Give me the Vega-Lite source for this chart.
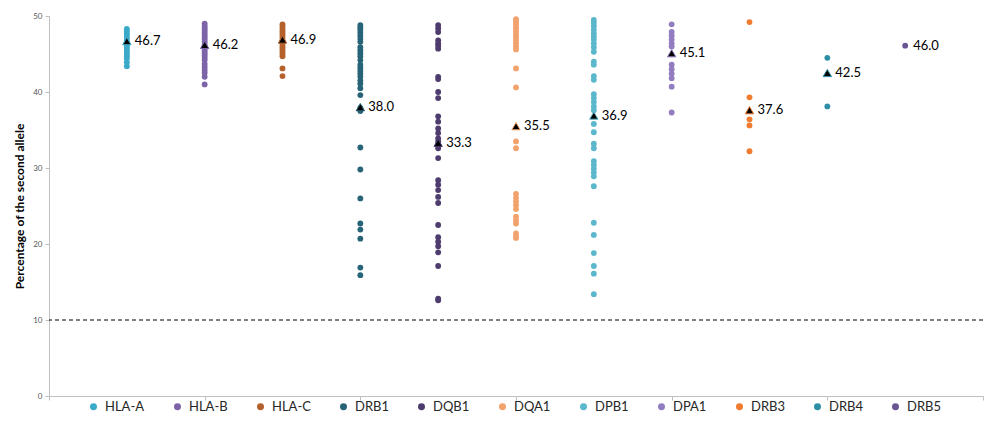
{
  "$schema": "https://vega.github.io/schema/vega-lite/v6.json",
  "width": 934,
  "height": 380,
  "autosize": "none",
  "padding": {"left": 49, "top": 16, "right": 8, "bottom": 31},
  "background": "white",
  "config": {
    "view": {"stroke": null},
    "font": "Lato",
    "axis": {"domainColor": "#BFBFBF", "tickColor": "#BFBFBF", "grid": false}
  },
  "datasets": {
    "points": [
      {"gene": "HLA-A", "pos": 1, "value": 48.3}, {"gene": "HLA-A", "pos": 1, "value": 48.0}, {"gene": "HLA-A", "pos": 1, "value": 47.7}, {"gene": "HLA-A", "pos": 1, "value": 47.4}, {"gene": "HLA-A", "pos": 1, "value": 47.1}, {"gene": "HLA-A", "pos": 1, "value": 46.8}, {"gene": "HLA-A", "pos": 1, "value": 46.5}, {"gene": "HLA-A", "pos": 1, "value": 46.2}, {"gene": "HLA-A", "pos": 1, "value": 45.9}, {"gene": "HLA-A", "pos": 1, "value": 45.6}, {"gene": "HLA-A", "pos": 1, "value": 45.3}, {"gene": "HLA-A", "pos": 1, "value": 45.0}, {"gene": "HLA-A", "pos": 1, "value": 44.7}, {"gene": "HLA-A", "pos": 1, "value": 44.4}, {"gene": "HLA-A", "pos": 1, "value": 43.9}, {"gene": "HLA-A", "pos": 1, "value": 43.4},
      {"gene": "HLA-B", "pos": 2, "value": 49.0}, {"gene": "HLA-B", "pos": 2, "value": 48.7}, {"gene": "HLA-B", "pos": 2, "value": 48.4}, {"gene": "HLA-B", "pos": 2, "value": 48.1}, {"gene": "HLA-B", "pos": 2, "value": 47.8}, {"gene": "HLA-B", "pos": 2, "value": 47.5}, {"gene": "HLA-B", "pos": 2, "value": 47.2}, {"gene": "HLA-B", "pos": 2, "value": 46.9}, {"gene": "HLA-B", "pos": 2, "value": 46.6}, {"gene": "HLA-B", "pos": 2, "value": 46.3}, {"gene": "HLA-B", "pos": 2, "value": 46.0}, {"gene": "HLA-B", "pos": 2, "value": 45.7}, {"gene": "HLA-B", "pos": 2, "value": 45.4}, {"gene": "HLA-B", "pos": 2, "value": 45.1}, {"gene": "HLA-B", "pos": 2, "value": 44.8}, {"gene": "HLA-B", "pos": 2, "value": 44.5}, {"gene": "HLA-B", "pos": 2, "value": 44.2}, {"gene": "HLA-B", "pos": 2, "value": 43.7}, {"gene": "HLA-B", "pos": 2, "value": 43.3}, {"gene": "HLA-B", "pos": 2, "value": 42.9}, {"gene": "HLA-B", "pos": 2, "value": 42.5}, {"gene": "HLA-B", "pos": 2, "value": 42.0}, {"gene": "HLA-B", "pos": 2, "value": 41.0},
      {"gene": "HLA-C", "pos": 3, "value": 48.9}, {"gene": "HLA-C", "pos": 3, "value": 48.6}, {"gene": "HLA-C", "pos": 3, "value": 48.3}, {"gene": "HLA-C", "pos": 3, "value": 48.0}, {"gene": "HLA-C", "pos": 3, "value": 47.7}, {"gene": "HLA-C", "pos": 3, "value": 47.4}, {"gene": "HLA-C", "pos": 3, "value": 47.1}, {"gene": "HLA-C", "pos": 3, "value": 46.8}, {"gene": "HLA-C", "pos": 3, "value": 46.5}, {"gene": "HLA-C", "pos": 3, "value": 46.2}, {"gene": "HLA-C", "pos": 3, "value": 45.9}, {"gene": "HLA-C", "pos": 3, "value": 45.6}, {"gene": "HLA-C", "pos": 3, "value": 45.3}, {"gene": "HLA-C", "pos": 3, "value": 45.0}, {"gene": "HLA-C", "pos": 3, "value": 44.7}, {"gene": "HLA-C", "pos": 3, "value": 43.1}, {"gene": "HLA-C", "pos": 3, "value": 42.1},
      {"gene": "DRB1", "pos": 4, "value": 48.8}, {"gene": "DRB1", "pos": 4, "value": 48.5}, {"gene": "DRB1", "pos": 4, "value": 48.2}, {"gene": "DRB1", "pos": 4, "value": 47.8}, {"gene": "DRB1", "pos": 4, "value": 47.4}, {"gene": "DRB1", "pos": 4, "value": 47.0}, {"gene": "DRB1", "pos": 4, "value": 46.6}, {"gene": "DRB1", "pos": 4, "value": 45.9}, {"gene": "DRB1", "pos": 4, "value": 45.5}, {"gene": "DRB1", "pos": 4, "value": 45.1}, {"gene": "DRB1", "pos": 4, "value": 44.7}, {"gene": "DRB1", "pos": 4, "value": 44.2}, {"gene": "DRB1", "pos": 4, "value": 43.6}, {"gene": "DRB1", "pos": 4, "value": 43.2}, {"gene": "DRB1", "pos": 4, "value": 42.8}, {"gene": "DRB1", "pos": 4, "value": 42.4}, {"gene": "DRB1", "pos": 4, "value": 42.0}, {"gene": "DRB1", "pos": 4, "value": 41.5}, {"gene": "DRB1", "pos": 4, "value": 41.1}, {"gene": "DRB1", "pos": 4, "value": 40.5}, {"gene": "DRB1", "pos": 4, "value": 39.6}, {"gene": "DRB1", "pos": 4, "value": 37.9}, {"gene": "DRB1", "pos": 4, "value": 37.5}, {"gene": "DRB1", "pos": 4, "value": 32.7}, {"gene": "DRB1", "pos": 4, "value": 29.8}, {"gene": "DRB1", "pos": 4, "value": 26.0}, {"gene": "DRB1", "pos": 4, "value": 22.7}, {"gene": "DRB1", "pos": 4, "value": 21.9}, {"gene": "DRB1", "pos": 4, "value": 20.7}, {"gene": "DRB1", "pos": 4, "value": 16.9}, {"gene": "DRB1", "pos": 4, "value": 15.9},
      {"gene": "DQB1", "pos": 5, "value": 48.8}, {"gene": "DQB1", "pos": 5, "value": 48.4}, {"gene": "DQB1", "pos": 5, "value": 47.9}, {"gene": "DQB1", "pos": 5, "value": 46.8}, {"gene": "DQB1", "pos": 5, "value": 46.4}, {"gene": "DQB1", "pos": 5, "value": 46.1}, {"gene": "DQB1", "pos": 5, "value": 45.7}, {"gene": "DQB1", "pos": 5, "value": 42.0}, {"gene": "DQB1", "pos": 5, "value": 41.7}, {"gene": "DQB1", "pos": 5, "value": 40.0}, {"gene": "DQB1", "pos": 5, "value": 39.2}, {"gene": "DQB1", "pos": 5, "value": 36.8}, {"gene": "DQB1", "pos": 5, "value": 36.1}, {"gene": "DQB1", "pos": 5, "value": 35.2}, {"gene": "DQB1", "pos": 5, "value": 34.6}, {"gene": "DQB1", "pos": 5, "value": 33.9}, {"gene": "DQB1", "pos": 5, "value": 33.5}, {"gene": "DQB1", "pos": 5, "value": 33.0}, {"gene": "DQB1", "pos": 5, "value": 32.6}, {"gene": "DQB1", "pos": 5, "value": 31.3}, {"gene": "DQB1", "pos": 5, "value": 28.4}, {"gene": "DQB1", "pos": 5, "value": 27.8}, {"gene": "DQB1", "pos": 5, "value": 27.1}, {"gene": "DQB1", "pos": 5, "value": 26.2}, {"gene": "DQB1", "pos": 5, "value": 25.4}, {"gene": "DQB1", "pos": 5, "value": 22.5}, {"gene": "DQB1", "pos": 5, "value": 20.9}, {"gene": "DQB1", "pos": 5, "value": 20.3}, {"gene": "DQB1", "pos": 5, "value": 19.7}, {"gene": "DQB1", "pos": 5, "value": 18.9}, {"gene": "DQB1", "pos": 5, "value": 17.1}, {"gene": "DQB1", "pos": 5, "value": 12.8}, {"gene": "DQB1", "pos": 5, "value": 12.6},
      {"gene": "DQA1", "pos": 6, "value": 49.6}, {"gene": "DQA1", "pos": 6, "value": 49.3}, {"gene": "DQA1", "pos": 6, "value": 49.0}, {"gene": "DQA1", "pos": 6, "value": 48.7}, {"gene": "DQA1", "pos": 6, "value": 48.4}, {"gene": "DQA1", "pos": 6, "value": 48.0}, {"gene": "DQA1", "pos": 6, "value": 47.6}, {"gene": "DQA1", "pos": 6, "value": 47.2}, {"gene": "DQA1", "pos": 6, "value": 46.8}, {"gene": "DQA1", "pos": 6, "value": 46.4}, {"gene": "DQA1", "pos": 6, "value": 46.0}, {"gene": "DQA1", "pos": 6, "value": 45.6}, {"gene": "DQA1", "pos": 6, "value": 43.1}, {"gene": "DQA1", "pos": 6, "value": 40.6}, {"gene": "DQA1", "pos": 6, "value": 33.5}, {"gene": "DQA1", "pos": 6, "value": 32.6}, {"gene": "DQA1", "pos": 6, "value": 26.6}, {"gene": "DQA1", "pos": 6, "value": 26.1}, {"gene": "DQA1", "pos": 6, "value": 25.6}, {"gene": "DQA1", "pos": 6, "value": 25.1}, {"gene": "DQA1", "pos": 6, "value": 24.6}, {"gene": "DQA1", "pos": 6, "value": 23.6}, {"gene": "DQA1", "pos": 6, "value": 23.1}, {"gene": "DQA1", "pos": 6, "value": 22.7}, {"gene": "DQA1", "pos": 6, "value": 21.4}, {"gene": "DQA1", "pos": 6, "value": 21.0}, {"gene": "DQA1", "pos": 6, "value": 20.8},
      {"gene": "DPB1", "pos": 7, "value": 49.5}, {"gene": "DPB1", "pos": 7, "value": 49.1}, {"gene": "DPB1", "pos": 7, "value": 48.7}, {"gene": "DPB1", "pos": 7, "value": 48.2}, {"gene": "DPB1", "pos": 7, "value": 47.7}, {"gene": "DPB1", "pos": 7, "value": 47.3}, {"gene": "DPB1", "pos": 7, "value": 46.9}, {"gene": "DPB1", "pos": 7, "value": 46.4}, {"gene": "DPB1", "pos": 7, "value": 45.9}, {"gene": "DPB1", "pos": 7, "value": 45.3}, {"gene": "DPB1", "pos": 7, "value": 44.0}, {"gene": "DPB1", "pos": 7, "value": 43.6}, {"gene": "DPB1", "pos": 7, "value": 42.1}, {"gene": "DPB1", "pos": 7, "value": 41.6}, {"gene": "DPB1", "pos": 7, "value": 39.7}, {"gene": "DPB1", "pos": 7, "value": 39.2}, {"gene": "DPB1", "pos": 7, "value": 38.7}, {"gene": "DPB1", "pos": 7, "value": 38.1}, {"gene": "DPB1", "pos": 7, "value": 37.6}, {"gene": "DPB1", "pos": 7, "value": 35.8}, {"gene": "DPB1", "pos": 7, "value": 34.7}, {"gene": "DPB1", "pos": 7, "value": 33.2}, {"gene": "DPB1", "pos": 7, "value": 32.6}, {"gene": "DPB1", "pos": 7, "value": 30.9}, {"gene": "DPB1", "pos": 7, "value": 30.4}, {"gene": "DPB1", "pos": 7, "value": 29.9}, {"gene": "DPB1", "pos": 7, "value": 29.4}, {"gene": "DPB1", "pos": 7, "value": 28.9}, {"gene": "DPB1", "pos": 7, "value": 27.6}, {"gene": "DPB1", "pos": 7, "value": 22.8}, {"gene": "DPB1", "pos": 7, "value": 21.2}, {"gene": "DPB1", "pos": 7, "value": 18.8}, {"gene": "DPB1", "pos": 7, "value": 17.1}, {"gene": "DPB1", "pos": 7, "value": 16.1}, {"gene": "DPB1", "pos": 7, "value": 13.4},
      {"gene": "DPA1", "pos": 8, "value": 48.9}, {"gene": "DPA1", "pos": 8, "value": 47.9}, {"gene": "DPA1", "pos": 8, "value": 47.4}, {"gene": "DPA1", "pos": 8, "value": 46.9}, {"gene": "DPA1", "pos": 8, "value": 46.4}, {"gene": "DPA1", "pos": 8, "value": 46.0}, {"gene": "DPA1", "pos": 8, "value": 43.6}, {"gene": "DPA1", "pos": 8, "value": 43.0}, {"gene": "DPA1", "pos": 8, "value": 42.4}, {"gene": "DPA1", "pos": 8, "value": 41.8}, {"gene": "DPA1", "pos": 8, "value": 40.7}, {"gene": "DPA1", "pos": 8, "value": 37.3},
      {"gene": "DRB3", "pos": 9, "value": 49.2}, {"gene": "DRB3", "pos": 9, "value": 39.3}, {"gene": "DRB3", "pos": 9, "value": 36.4}, {"gene": "DRB3", "pos": 9, "value": 35.6}, {"gene": "DRB3", "pos": 9, "value": 32.2},
      {"gene": "DRB4", "pos": 10, "value": 44.5}, {"gene": "DRB4", "pos": 10, "value": 38.1},
      {"gene": "DRB5", "pos": 11, "value": 46.1}
    ],
    "means": [
      {"gene": "HLA-A", "pos": 1, "mean": 46.7},
      {"gene": "HLA-B", "pos": 2, "mean": 46.2},
      {"gene": "HLA-C", "pos": 3, "mean": 46.9},
      {"gene": "DRB1", "pos": 4, "mean": 38.0},
      {"gene": "DQB1", "pos": 5, "mean": 33.3},
      {"gene": "DQA1", "pos": 6, "mean": 35.5},
      {"gene": "DPB1", "pos": 7, "mean": 36.9},
      {"gene": "DPA1", "pos": 8, "mean": 45.1},
      {"gene": "DRB3", "pos": 9, "mean": 37.6},
      {"gene": "DRB4", "pos": 10, "mean": 42.5},
      {"gene": "DRB5", "pos": 11, "mean": 46.0}
    ]
  },
  "layer": [
    {
      "data": {"values": [{"threshold": 10}]},
      "mark": {"type": "rule", "color": "black", "strokeDash": [4, 3], "strokeWidth": 1},
      "encoding": {"y": {"field": "threshold", "type": "quantitative"}}
    },
    {
      "data": {"name": "points"},
      "mark": {"type": "point", "shape": "circle", "filled": true, "opacity": 1, "size": 34},
      "encoding": {
        "x": {"field": "pos", "type": "quantitative", "scale": {"domain": [0, 12], "nice": false, "zero": true},
              "axis": {"title": null, "labels": false, "values": [0, 2, 4, 6, 8, 10, 12], "tickSize": 4, "domainColor": "#BFBFBF", "tickColor": "#BFBFBF"}},
        "y": {"field": "value", "type": "quantitative", "scale": {"domain": [0, 50], "nice": false},
              "axis": {"title": "Percentage of the second allele", "titleFont": "Lato", "titleFontSize": 12, "titleFontWeight": "bold", "titleColor": "black", "titlePadding": 6,
                       "values": [0, 5, 10, 15, 20, 25, 30, 35, 40, 45, 50], "labelFontSize": 8, "labelColor": "#595959", "tickSize": 4, "labelPadding": 3}},
        "color": {"field": "gene", "type": "nominal",
                  "scale": {"domain": ["HLA-A", "HLA-B", "HLA-C", "DRB1", "DQB1", "DQA1", "DPB1", "DPA1", "DRB3", "DRB4", "DRB5"],
                            "range": ["#3AAAC8", "#7D63A8", "#B5612C", "#286478", "#4E3C6E", "#F2A36D", "#5BB7CB", "#917DBF", "#EF7C30", "#2D8FA6", "#6A5594"]},
                  "legend": {"title": null, "orient": "none", "legendX": 38, "legendY": 384, "direction": "horizontal", "columns": 11, "symbolType": "circle", "symbolSize": 30,
                             "labelFont": "Lato", "labelFontSize": 13, "labelColor": "#262626", "columnPadding": 26, "labelOffset": 5}}
      }
    },
    {
      "data": {"name": "means"},
      "transform": [{"filter": "datum.gene !== 'DRB5'"}],
      "mark": {"type": "point", "shape": "triangle-up", "filled": true, "fill": "black", "size": 70, "strokeWidth": 1, "opacity": 1},
      "encoding": {
        "x": {"field": "pos", "type": "quantitative"},
        "y": {"field": "mean", "type": "quantitative"},
        "stroke": {"field": "gene", "type": "nominal", "scale": {"domain": ["HLA-A", "HLA-B", "HLA-C", "DRB1", "DQB1", "DQA1", "DPB1", "DPA1", "DRB3", "DRB4", "DRB5"],
                            "range": ["#3AAAC8", "#7D63A8", "#B5612C", "#286478", "#4E3C6E", "#F2A36D", "#5BB7CB", "#917DBF", "#EF7C30", "#2D8FA6", "#6A5594"]}, "legend": null}
      }
    },
    {
      "data": {"name": "means"},
      "mark": {"type": "text", "align": "left", "baseline": "middle", "dx": 8, "fontSize": 13, "font": "Lato", "color": "black"},
      "encoding": {
        "x": {"field": "pos", "type": "quantitative"},
        "y": {"field": "mean", "type": "quantitative"},
        "text": {"field": "mean", "type": "quantitative", "format": ".1f"}
      }
    }
  ]
}
